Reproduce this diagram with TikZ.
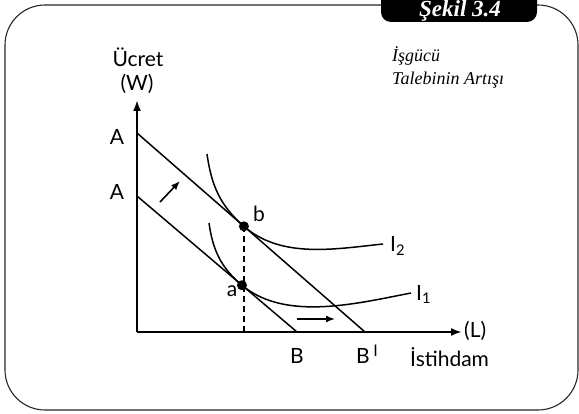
\documentclass[tikz,border=0pt]{standalone}
\usepackage{fontspec}
\setmainfont{Liberation Serif}
\setsansfont{Lato}
\usetikzlibrary{arrows.meta,calc}
\tikzset{
  frame/.style={line width=1.1pt,draw=black!85,rounded corners=40pt},
  tab/.style={fill=black,rounded corners=10pt},
  tabtext/.style={text=white,inner sep=0pt,font=\fontsize{23}{25}\selectfont\bfseries\itshape},
  title/.style={inner sep=0pt,font=\fontsize{18}{22}\selectfont\itshape},
  axis/.style={line width=2pt,-{Latex[length=11pt,width=8pt]}},
  budget/.style={line width=1.5pt},
  indiff/.style={line width=1.5pt},
  move/.style={line width=1.6pt,-{Latex[length=9pt,width=7pt]}},
  guide/.style={line width=1.8pt,dash pattern=on 6pt off 4pt},
  lbl/.style={inner sep=0pt,font=\sffamily\fontsize{21}{23}\selectfont}
}

\begin{document}
\begin{tikzpicture}[x=1pt,y=1pt]
  \useasboundingbox (0,0) rectangle (579,413);
  \clip (0,0) rectangle (579,413);

  % ================= çerçeve ve başlık =================
  \draw[frame] (5,3) rectangle (578,408);
  \fill[tab] (381,391) rectangle (537,440);
  \node[tabtext,anchor=base] (sekil) at (460,396) {Şekil 3.4};
  \node[title,anchor=base west] (baslik1) at (392,351) {İşgücü};
  \node[title,anchor=base west] (baslik2) at (392,328) {Talebinin Artışı};

  % ================= eksenler =================
  \coordinate (O) at (137,81);
  \coordinate (Ytop) at (137,313);
  \coordinate (Xend) at (462,81);
  \draw[axis] (O) -- (Ytop);
  \draw[axis] (O) -- (Xend);
  \node[lbl,anchor=base] (ucret) at (138,346) {Ücret};
  \node[lbl,anchor=base] (W) at (137,322) {(W)};
  \node[lbl,anchor=base west] (L) at (464,76) {(L)};
  \node[lbl,anchor=base west] (istihdam) at (410,47) {İstihdam};

  % ================= bütçe doğruları =================
  \coordinate (A1) at (137,217);
  \coordinate (B1) at (297,81);
  \coordinate (A2) at (137,280);
  \coordinate (B2) at (365,81);
  \draw[budget] (A1) -- (B1);
  \draw[budget] (A2) -- (B2);
  \node[lbl,anchor=base] (lA1) at (117,213) {A};
  \node[lbl,anchor=base] (lA2) at (117,268) {A};
  \node[lbl,anchor=base] (lB1) at (297,50) {B};
  \node[lbl,anchor=base west] (lB2) at (356,50) {B\,\raisebox{0.3em}{\fontsize{16}{16}\selectfont I}};

  % denge noktaları
  \coordinate (a) at ($(A1)!0.656!(B1)$);
  \coordinate (b) at ($(A2)!0.469!(B2)$);
  \draw[guide] (b) -- (b |- O);

  % ================= kayıtsızlık eğrileri =================
  \draw[indiff] (207,259) to[out=-82,in=139] (b) to[out=-41,in=186,looseness=0.9] (383,169);
  \draw[indiff] (209,190) to[out=-82,in=140] (a) to[out=-40,in=191,looseness=0.85] (411,120);
  \node[lbl,anchor=base west] (I2) at (390,161) {I\textsubscript{2}};
  \node[lbl,anchor=base west] (I1) at (416,113) {I\textsubscript{1}};

  \fill (a) circle (5);
  \fill (b) circle (5);
  \node[lbl,anchor=base] (la) at (232,116) {a};
  \node[lbl,anchor=base] (lb) at (259,191) {b};

  % ================= kayma okları =================
  \coordinate (d1) at (160,211);
  \coordinate (d2) at (180,232);
  \draw[move] (d1) -- (d2);
  \coordinate (h1) at (297,94);
  \coordinate (h2) at (335,94);
  \draw[move] (h1) -- (h2);
\end{tikzpicture}
\end{document}
